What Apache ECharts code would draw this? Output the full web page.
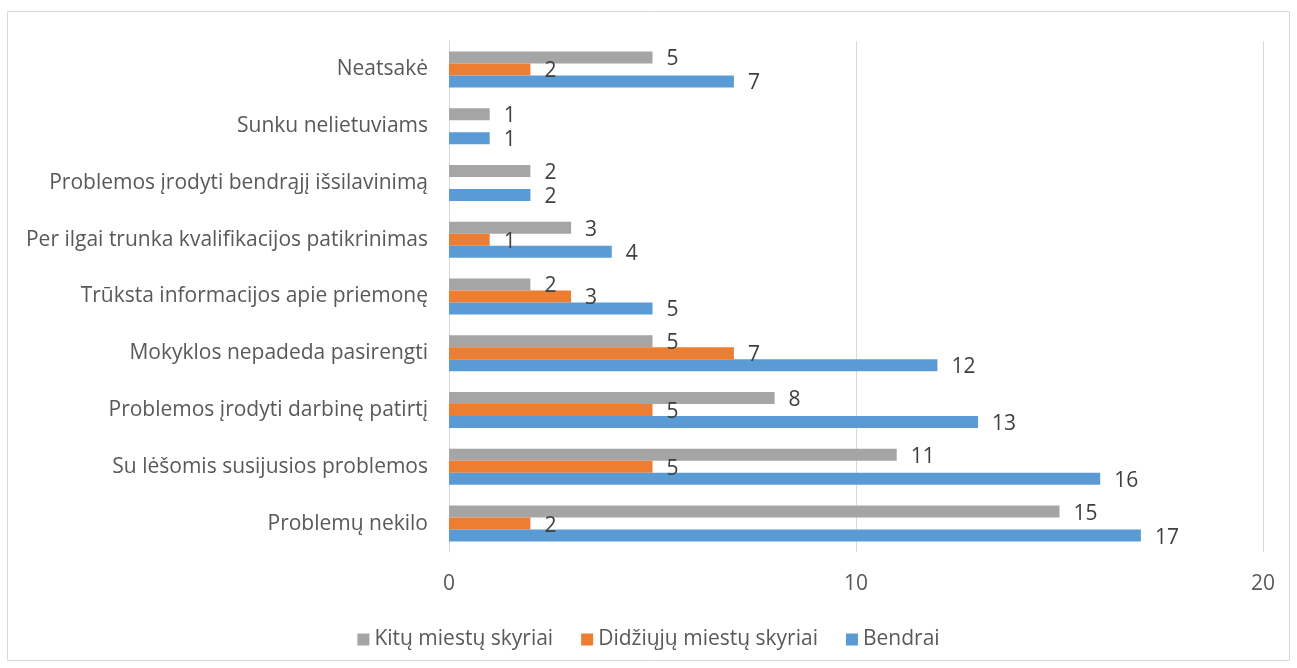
<!DOCTYPE html>
<html><head><meta charset="utf-8">
<script src="https://cdn.jsdelivr.net/npm/echarts@6/dist/echarts.min.js"></script>
<style>html,body{margin:0;padding:0;background:#fff}#c{width:1297px;height:668px}</style>
</head><body><div id="c"></div>
<script>
const categories = ["Problemų nekilo","Su lėšomis susijusios problemos","Problemos įrodyti darbinę patirtį","Mokyklos nepadeda pasirengti","Trūksta informacijos apie priemonę","Per ilgai trunka kvalifikacijos patikrinimas","Problemos įrodyti bendrąjį išsilavinimą","Sunku nelietuviams","Neatsakė"];
const bendrai = [17,16,13,12,5,4,2,1,7];
const didziuju = [2,5,5,7,3,1,null,null,2];
const kitu = [15,11,8,5,2,3,2,1,5];
const xTicks = [0,10,20];

const FONT = "Open Sans";
const FS = 21;
const chart = echarts.init(document.getElementById('c'));
const lbl = {show:true, position:'right', distance:14, color:'#404040', fontSize:FS, fontFamily:FONT, offset:[0,2]};
chart.setOption({
  animation:false,
  textStyle:{fontFamily:FONT},
  graphic:[{type:'rect', shape:{x:7.5,y:11.5,width:1282,height:649}, style:{fill:'none', stroke:'#d9d9d9', lineWidth:1}}],
  grid:{left:449, right:34, top:41, bottom:116, containLabel:false},
  xAxis:{type:'value', min:xTicks[0], max:xTicks[xTicks.length-1], interval:10,
    axisLabel:{color:'#595959', fontSize:FS, margin:22, fontFamily:FONT},
    splitLine:{lineStyle:{color:'#d9d9d9', width:1}}, axisLine:{show:false}, axisTick:{show:false}},
  yAxis:{type:'category', data:categories,
    axisLabel:{color:'#595959', fontSize:FS, margin:21, fontFamily:FONT},
    axisLine:{lineStyle:{color:'#d9d9d9', width:1}}, axisTick:{show:false}},
  legend:{bottom:13, left:'center', itemWidth:12, itemHeight:12, itemGap:28, icon:'rect',
    textStyle:{color:'#595959', fontSize:FS, fontFamily:FONT},
    data:['Kitų miestų skyriai','Didžiųjų miestų skyriai','Bendrai']},
  series:[
    {name:'Kitų miestų skyriai', type:'bar', data:kitu, barWidth:12, barGap:'0%', itemStyle:{color:'#a5a5a5'}, label:lbl},
    {name:'Didžiųjų miestų skyriai', type:'bar', data:didziuju, barWidth:12, barGap:'0%', itemStyle:{color:'#ed7d31'}, label:lbl},
    {name:'Bendrai', type:'bar', data:bendrai, barWidth:12, barGap:'0%', itemStyle:{color:'#5b9bd5'}, label:lbl}
  ]
});
</script></body></html>
